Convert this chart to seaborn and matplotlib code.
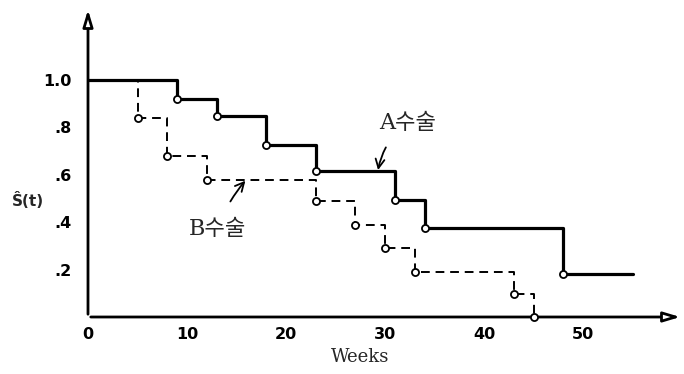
import seaborn as sns
import matplotlib.pyplot as plt
import pandas as pd
import numpy as np

# survival estimates (weeks, S-hat)
a_weeks = [0, 9, 13, 18, 23, 31, 34, 48, 55]
a_surv = [1.0, 0.92, 0.85, 0.725, 0.615, 0.495, 0.375, 0.18, 0.18]
b_weeks = [0, 5, 8, 12, 23, 27, 30, 33, 43, 45]
b_surv = [1.0, 0.84, 0.68, 0.58, 0.49, 0.39, 0.29, 0.19, 0.095, 0.0]

x_ticks = [10, 20, 30, 40, 50]
y_ticks = [0.2, 0.4, 0.6, 0.8, 1.0]
y_tick_labels = [".2", ".4", ".6", ".8", "1.0"]

df = pd.concat([
    pd.DataFrame({"weeks": a_weeks, "surv": a_surv, "group": "A"}),
    pd.DataFrame({"weeks": b_weeks, "surv": b_surv, "group": "B"}),
])
# drop points get an open circle (skip start and A's end)
drops = pd.concat([
    pd.DataFrame({"weeks": a_weeks[1:-1], "surv": a_surv[1:-1]}),
    pd.DataFrame({"weeks": b_weeks[1:], "surv": b_surv[1:]}),
])

sns.set_style("white")
plt.rcParams["font.family"] = ["DejaVu Sans"]

fig = plt.figure(figsize=(6.84, 3.74), dpi=100)
ax = fig.add_axes([88 / 684, 1 - 317 / 374, (683 - 88) / 684, 310 / 374])

sns.lineplot(data=df[df.group == "B"], x="weeks", y="surv", ax=ax, color="black",
             drawstyle="steps-post", linewidth=1.4, linestyle=(0, (4.5, 3)),
             sort=False, estimator=None)
sns.lineplot(data=df[df.group == "A"], x="weeks", y="surv", ax=ax, color="black",
             drawstyle="steps-post", linewidth=2.3, sort=False, estimator=None)
sns.scatterplot(data=drops, x="weeks", y="surv", ax=ax, marker="o", s=26,
                facecolor="white", edgecolor="black", linewidth=1.3, zorder=5,
                clip_on=False)

ax.set_xlim(0, 60.1)
ax.set_ylim(0, 310 / 237)
for s in ax.spines.values():
    s.set_visible(False)

# axes with open arrow heads
ax.annotate("", xy=(60.1, 0), xytext=(0, 0), xycoords="data",
            arrowprops=dict(arrowstyle="-|>,head_length=1.0,head_width=0.3",
                            fc="white", ec="black", lw=2), annotation_clip=False)
ax.annotate("", xy=(0, 310 / 237), xytext=(0, 0), xycoords="data",
            arrowprops=dict(arrowstyle="-|>,head_length=1.0,head_width=0.3",
                            fc="white", ec="black", lw=2), annotation_clip=False)

ax.set_xticks([0] + x_ticks)
ax.set_xticklabels(["0"] + [str(t) for t in x_ticks])
ax.set_yticks(y_ticks)
ax.set_yticklabels(y_tick_labels)
ax.tick_params(axis="both", direction="in", length=9, width=1.5, pad=7,
               labelsize=11.5, colors="black")
ax.tick_params(axis="y", pad=12)
for lab in ax.get_xticklabels() + ax.get_yticklabels():
    lab.set_fontweight("bold")
ax.set_xlabel("")
ax.set_ylabel("")

fig.text(360 / 684, 1 - 357 / 374, "Weeks", ha="center", va="center",
         fontsize=13, family="DejaVu Serif")
fig.text(28 / 684, 1 - 200 / 374, "Ŝ(t)", ha="center", va="center",
         fontsize=11, fontweight="bold")

kfont = ["DejaVu Serif", "Noto Sans CJK KR"]
ax.annotate("A수술", xy=(29.3, 0.62), xytext=(32.3, 0.82), ha="center", va="center",
            fontsize=16, family=kfont,
            arrowprops=dict(arrowstyle="->", lw=1.3, color="black",
                            connectionstyle="arc3,rad=0.2", shrinkA=9, shrinkB=0))
ax.annotate("B수술", xy=(15.9, 0.575), xytext=(13.1, 0.37), ha="center", va="center",
            fontsize=16, family=kfont,
            arrowprops=dict(arrowstyle="->", lw=1.3, color="black",
                            connectionstyle="arc3,rad=-0.1", shrinkA=11, shrinkB=0))

fig.savefig("out.png", dpi=100)
